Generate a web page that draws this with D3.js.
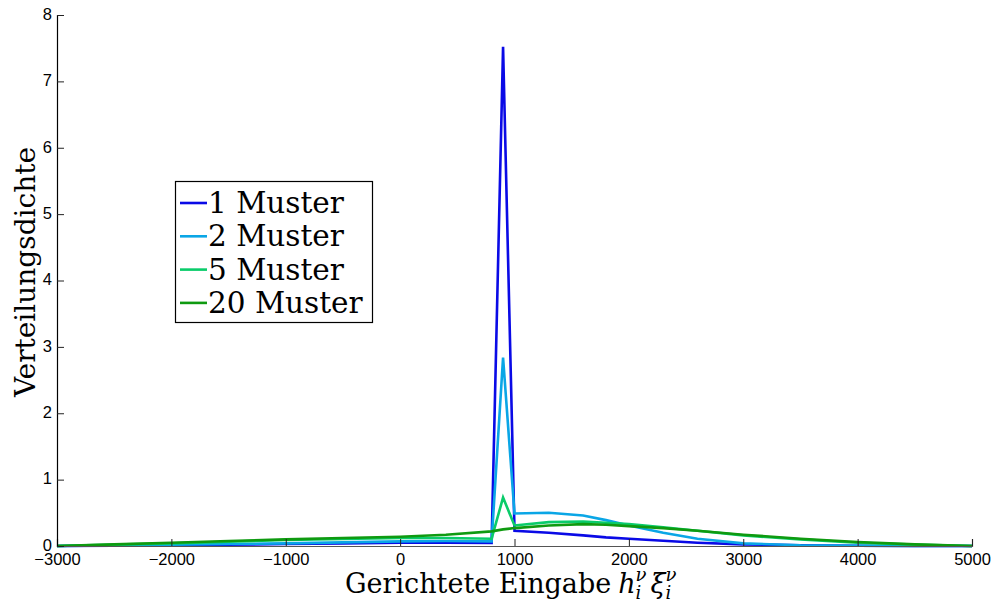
<!DOCTYPE html>
<html>
<head>
<meta charset="utf-8">
<script src="https://cdn.jsdelivr.net/npm/d3@7"></script>
<style>
  html, body { margin: 0; padding: 0; background: #fff; }
  svg { display: block; }
</style>
</head>
<body>
<svg id="chart" width="996" height="605"></svg>
<script>
// Input positions (shared sample points for every curve)
const inputs = [-3000, -2500, -2000, -1500, -1000, -500, 0, 400, 800, 900, 1000, 1300, 1600, 1800, 2000, 2300, 2600, 3000, 3500, 4000, 4500, 5000];

// Density per pattern count
const muster1  = [0, 0.005, 0.01, 0.02, 0.03, 0.04, 0.05, 0.05, 0.045, 7.52, 0.23, 0.20, 0.16, 0.13, 0.11, 0.08, 0.05, 0.025, 0.01, 0.003, 0.001, 0];
const muster2  = [0, 0.01, 0.02, 0.03, 0.04, 0.055, 0.07, 0.075, 0.07, 2.84, 0.49, 0.50, 0.46, 0.39, 0.31, 0.20, 0.11, 0.04, 0.012, 0.004, 0.001, 0];
const muster5  = [0, 0.02, 0.04, 0.065, 0.09, 0.105, 0.12, 0.12, 0.11, 0.73, 0.31, 0.36, 0.37, 0.35, 0.33, 0.28, 0.23, 0.16, 0.10, 0.05, 0.02, 0];
const muster20 = [0, 0.025, 0.05, 0.075, 0.10, 0.12, 0.14, 0.17, 0.22, 0.25, 0.27, 0.31, 0.33, 0.32, 0.30, 0.27, 0.23, 0.17, 0.11, 0.06, 0.025, 0];

const seriesNames = ["1 Muster", "2 Muster", "5 Muster", "20 Muster"];
const seriesColors = ["#0a0ae6", "#0aa6e6", "#0acc6a", "#0f9a10"];
const seriesValues = [muster1, muster2, muster5, muster20];

const xTicks = [-3000, -2000, -1000, 0, 1000, 2000, 3000, 4000, 5000];
const yTicks = [0, 1, 2, 3, 4, 5, 6, 7, 8];

const serif = "'DejaVu Serif', 'Liberation Serif', serif";
const sans = "'Liberation Sans', Arial, sans-serif";

const svg = d3.select("#chart");
const plotLeft = 57, plotRight = 972, plotTop = 15, plotBottom = 546;

const x = d3.scaleLinear().domain([-3000, 5000]).range([plotLeft, plotRight]);
const y = d3.scaleLinear().domain([0, 8]).range([plotBottom, plotTop]);

const minus = s => String(s).replace("-", "\u2212");

// Curves
const line = d3.line().x(d => x(d[0])).y(d => y(d[1]));
seriesValues.forEach((vals, i) => {
  svg.append("path")
    .datum(inputs.map((v, j) => [v, vals[j]]))
    .attr("fill", "none")
    .attr("stroke", seriesColors[i])
    .attr("stroke-width", 2.6)
    .attr("stroke-linejoin", "miter")
    .attr("d", line);
});

// X axis with inward ticks
const xAxis = svg.append("g").attr("transform", `translate(0,${plotBottom})`)
  .call(d3.axisBottom(x).tickValues(xTicks).tickSize(-7).tickPadding(7).tickFormat(minus));
xAxis.select(".domain").attr("stroke", "#555").attr("stroke-width", 1.2);
xAxis.selectAll(".tick line").attr("stroke", "#222");
xAxis.selectAll("text").attr("font-family", sans).attr("font-size", 16.5).attr("fill", "#000");

// Y axis with inward ticks
const yAxis = svg.append("g").attr("transform", `translate(${plotLeft},0)`)
  .call(d3.axisLeft(y).tickValues(yTicks).tickSize(-7).tickPadding(5).tickFormat(d3.format("d")));
yAxis.select(".domain").attr("stroke", "#000").attr("stroke-width", 1.2);
yAxis.selectAll(".tick line").attr("stroke", "#222");
yAxis.selectAll("text").attr("font-family", sans).attr("font-size", 16.5).attr("fill", "#000")
  .attr("dy", "0.26em");

// Y axis title
svg.append("text")
  .attr("transform", `translate(35,272) rotate(-90)`)
  .attr("text-anchor", "middle")
  .attr("font-family", serif)
  .attr("font-size", 28)
  .text("Verteilungsdichte");

// X axis title: words followed by h_i^ν ξ_i^ν, set as one text element
const base = 593, big = 27, small = 18;
function measure(txt, size, italic) {
  const t = svg.append("text").attr("font-family", serif).attr("font-size", size)
    .attr("font-style", italic ? "italic" : "normal").text(txt);
  const w = t.node().getComputedTextLength();
  t.remove();
  return w;
}
const parts = [];
let cx = 345;
parts.push({ t: "Gerichtete Eingabe", x: cx, y: base, s: big, it: false });
cx += measure("Gerichtete Eingabe", big, false) + 7;
[["h", 4], ["\u03BE", 0]].forEach(([sym, gap]) => {
  parts.push({ t: sym, x: cx, y: base, s: big, it: true });
  cx += measure(sym, big, true);
  parts.push({ t: "\u03BD", x: cx, y: base - 12, s: small, it: true });
  parts.push({ t: "i", x: cx, y: base + 6, s: small, it: true });
  cx += Math.max(measure("\u03BD", small, true), measure("i", small, true)) + gap;
});
const xTitle = svg.append("text").attr("font-family", serif);
parts.forEach(p => {
  xTitle.append("tspan")
    .attr("x", p.x).attr("y", p.y)
    .attr("font-size", p.s)
    .attr("font-style", p.it ? "italic" : "normal")
    .text(p.t);
});

// Legend
const lg = svg.append("g");
lg.append("rect")
  .attr("x", 175.5).attr("y", 181.5).attr("width", 197).attr("height", 141)
  .attr("fill", "#fff").attr("stroke", "#000").attr("stroke-width", 1.2);
seriesNames.forEach((name, i) => {
  const cy = 203 + i * 33.3;
  lg.append("line")
    .attr("x1", 180).attr("x2", 207).attr("y1", cy).attr("y2", cy)
    .attr("stroke", seriesColors[i]).attr("stroke-width", 2.6);
  lg.append("text")
    .attr("x", 208).attr("y", cy + 10)
    .attr("font-family", serif)
    .attr("font-size", 29.5)
    .text(name);
});
</script>
</body>
</html>
